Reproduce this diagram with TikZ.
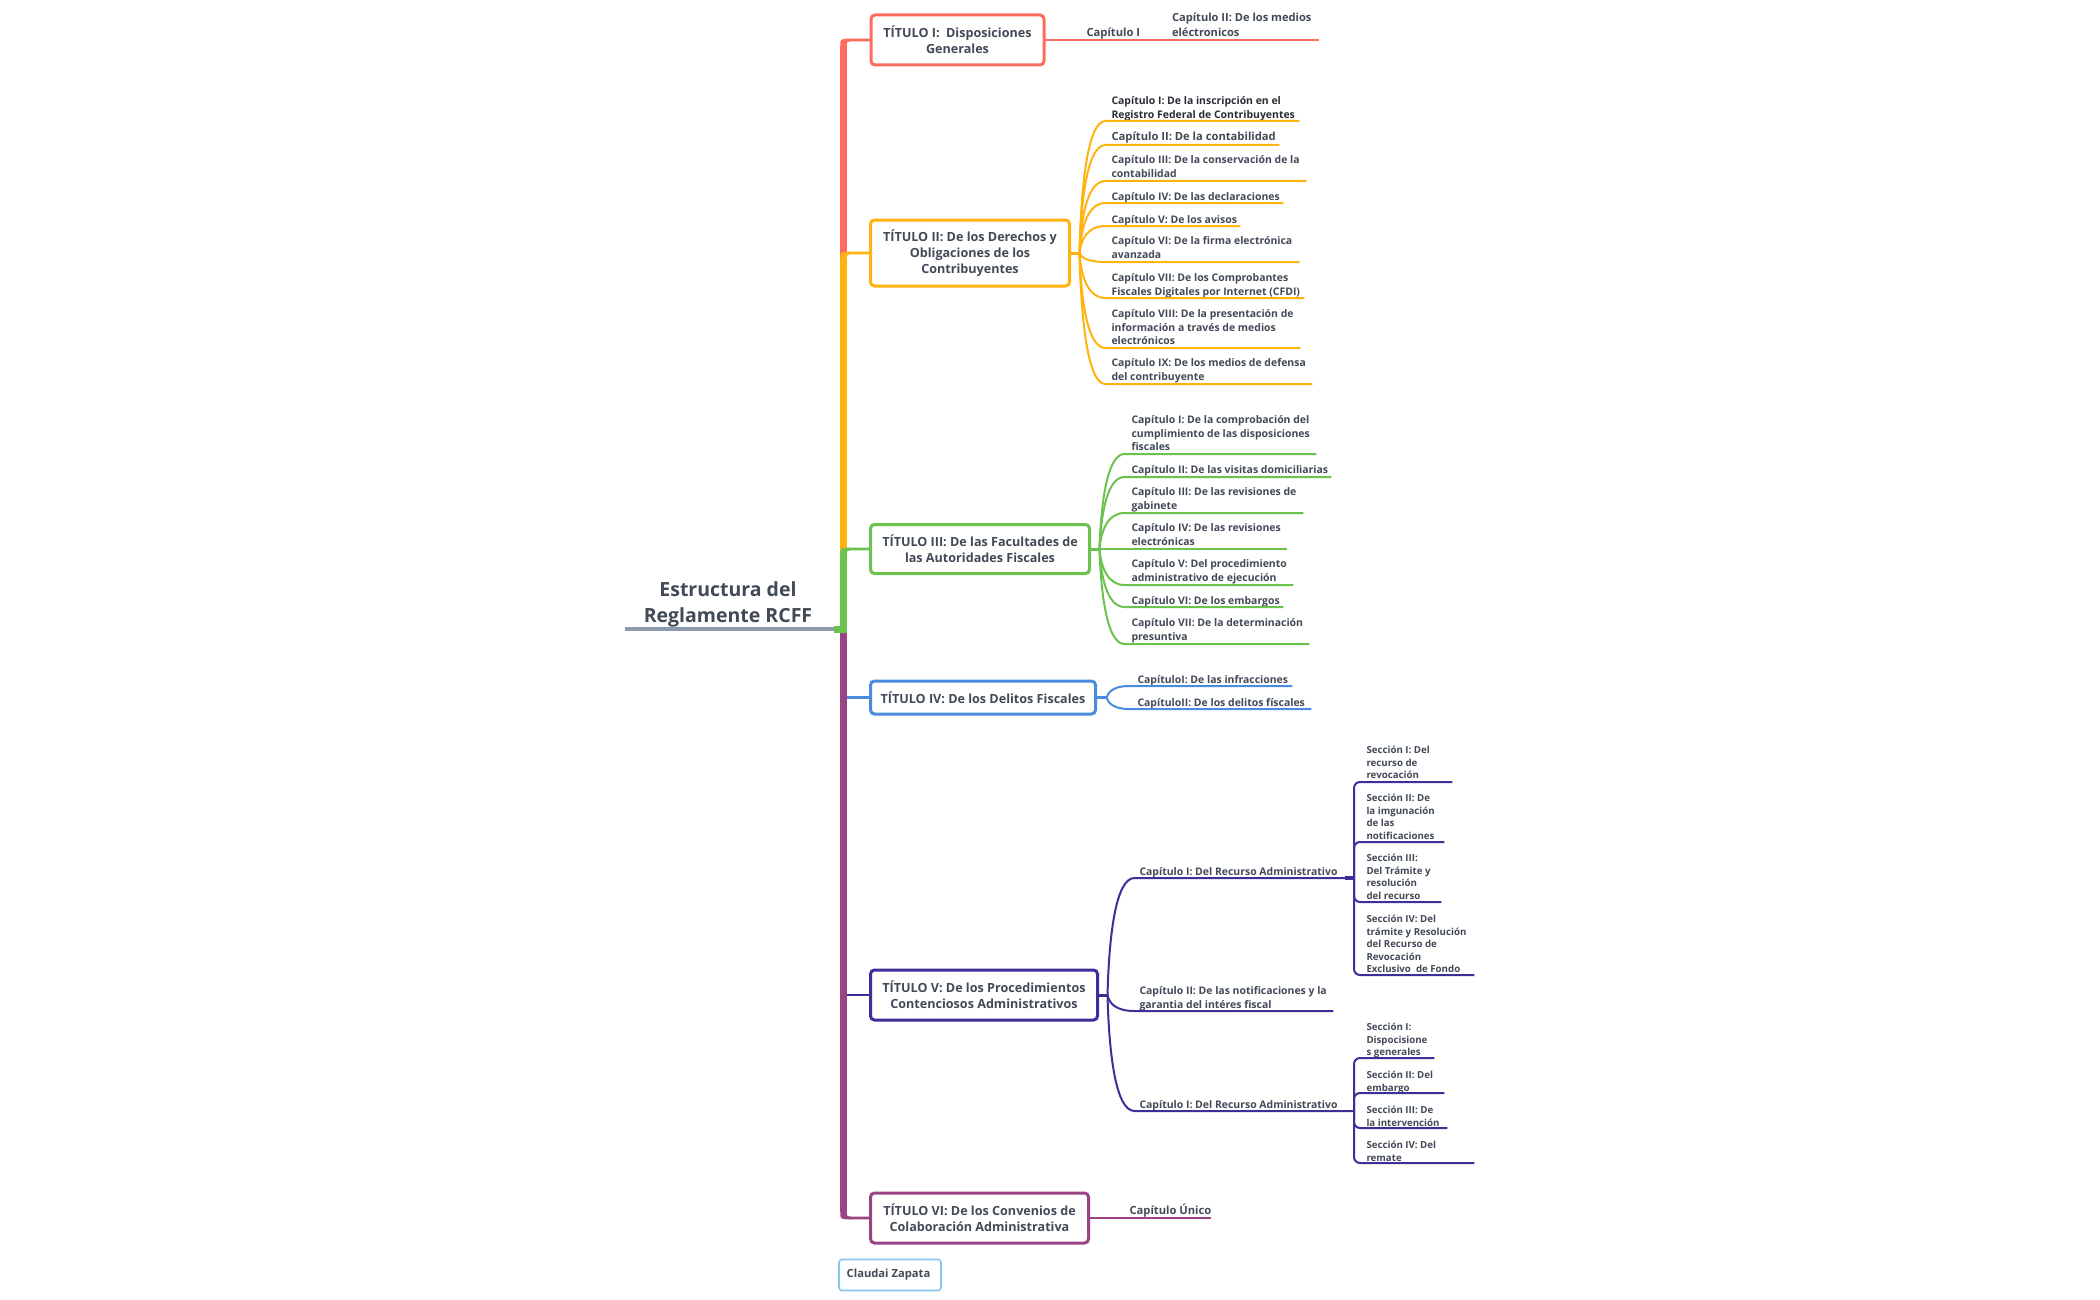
\documentclass[tikz,border=0pt]{standalone}
\usepackage{fontspec}
\setmainfont{Open Sans}
\usetikzlibrary{calc}
\definecolor{cred}{HTML}{FF6B5E}
\definecolor{corange}{HTML}{FFB30F}
\definecolor{cgreen}{HTML}{6CC24F}
\definecolor{cblue}{HTML}{4A8BDE}
\definecolor{cnavy}{HTML}{3E2E98}
\definecolor{cpurple}{HTML}{9A4485}
\definecolor{cgray}{HTML}{8E99AE}
\definecolor{ctext}{HTML}{414A56}
\definecolor{cdark}{HTML}{2A2D33}
\definecolor{clight}{HTML}{85C5EE}
\tikzset{
 titlebox/.style={draw=#1,line width=3,rounded corners=4,fill=white,inner sep=0,outer sep=0,align=center,text=ctext,font=\fontsize{12.6}{16}\selectfont\bfseries},
 leaftext/.style={anchor=north west,inner sep=0,outer sep=0,align=left,text=ctext,font=\fontsize{10.45}{13.5}\selectfont\bfseries,execute at begin node=\strut},
 bigleaf/.style={leaftext,font=\fontsize{11.2}{14.5}\selectfont\bfseries},
 secttext/.style={leaftext,font=\fontsize{9.7}{12.6}\selectfont\bfseries},
}
% \leaf[text style]{name}{from}{line y}{line end x}{text x}{text top y}{text}
\newcommand{\leaf}[8][leaftext]{%
 \coordinate (#2e) at ({#5-1.2},#4);
 \node[#1,yshift=-2.4pt] (#2) at (#6,#7) {#8};
}
\newcommand{\sectleaf}[7]{%
 \coordinate (#1e) at ({#4-1.2},#3);
 \node[secttext,yshift=-3.5pt] (#1) at ({#5-1},#6) {#7};
}
\newcommand{\leafline}[5]{% colour, from, curve end x, line y, end coordinate
 \draw[#1,line width=2] (#2) .. controls ($(#2)!.5!(#2 |- 0,#4)+(1.5,0)$) and ($(#2 |- 0,#4)+(8,0)$) .. (#3,#4) -- (#5);
}
\newcommand{\sectline}[2]{% from, end coord
 \draw[cnavy,line width=2,rounded corners=6] (#1) |- (#2);
}
\newcommand{\trunkup}[2]{%
 \coordinate (c#2) at (trunk |- #2.west);
 \draw[#1,line width=2.6,rounded corners=7] (trunk) |- (#2.west);
 \draw[#1,line width=6.5] (trunk) -- ($(c#2)+(0,6)$);
 \fill[#1] ($(c#2)+(-3.25,6.2)$) .. controls ($(c#2)+(-3.25,-1.3)$) .. ($(c#2)+(7,-1.3)$) -- ($(c#2)+(7,1.3)$) .. controls ($(c#2)+(3.25,1.3)$) .. ($(c#2)+(3.25,6.2)$) -- cycle;
}
\begin{document}
\begin{tikzpicture}[x=1pt,y=-1pt]
\useasboundingbox (0,0) rectangle (2100,1300);
\fill[white] (0,0) rectangle (2100,1300);
\coordinate (trunk) at (843.5,629);
\coordinate (rootl) at (625,629);
% root
\node[inner sep=0,outer sep=0,align=center,text=ctext,font=\fontsize{19.5}{26}\selectfont\bfseries] (root) at (728,604.5) {Estructura del\\Reglamente RCFF};
\draw[cgray,line width=3.5] (rootl) -- (trunk);
\begin{scope}[xshift=-1.5pt]
% titles
\node[titlebox=cred,minimum width=173,minimum height=50] (t1) at (959,40) {TÍTULO I:\ \ Disposiciones\\Generales};
\node[titlebox=corange,minimum width=199,minimum height=66] (t2) at (971.5,253) {TÍTULO II: De los Derechos y\\Obligaciones de los\\Contribuyentes};
\node[titlebox=cgreen,minimum width=219,minimum height=49] (t3) at (981.5,549) {TÍTULO III: De las Facultades de\\las Autoridades Fiscales};
\node[titlebox=cblue,minimum width=225,minimum height=33] (t4) at (984.5,697.5) {TÍTULO IV: De los Delitos Fiscales};
\node[titlebox=cnavy,minimum width=227,minimum height=50] (t5) at (985.5,995) {TÍTULO V: De los Procedimientos\\Contenciosos Administrativos};
\node[titlebox=cpurple,minimum width=218,minimum height=50] (t6) at (981,1218) {TÍTULO VI: De los Convenios de\\Colaboración Administrativa};
\end{scope}
% trunk
\trunkup{cred}{t1}
\trunkup{corange}{t2}
\trunkup{cgreen}{t3}
\draw[cblue,line width=2.6] (trunk |- t4.west) -- (t4.west);
\draw[cnavy,line width=2.6] (trunk |- t5.west) -- (t5.west);
\draw[cpurple,line width=2.6,rounded corners=7] (trunk) |- (t6.west);
\draw[cpurple,line width=6.5] (trunk) -- ($(trunk |- t6.west)+(0,-6)$);
\fill[cpurple] ($(trunk |- t6.west)+(-3.25,-6.2)$) .. controls ($(trunk |- t6.west)+(-3.25,1.3)$) .. ($(trunk |- t6.west)+(7,1.3)$) -- ($(trunk |- t6.west)+(7,-1.3)$) .. controls ($(trunk |- t6.west)+(3.25,-1.3)$) .. ($(trunk |- t6.west)+(3.25,-6.2)$) -- cycle;
\fill[cgreen] (834,625.5) rectangle (846.7,632.5);
\begin{scope}[xshift=-1.5pt]
% Titulo I
\node[bigleaf] (c10) at (1088,26) {Capítulo I};
\node[leaftext,font=\fontsize{11.1}{15}\selectfont\bfseries] (c11) at (1173.5,13) {Capítulo II: De los medios\\eléctronicos};
\coordinate (t1e) at (1320,40);
\draw[cred,line width=2.4] (t1.east) -- (t1e);
% Titulo II
\coordinate (o2) at (1081,253);
\draw[corange,line width=3] (t2.east) -- (o2);
\leaf[leaftext,text=cdark]{a1}{o2}{121}{1302}{1113}{94.5}{Capítulo I: De la inscripción en el\\Registro Federal de Contribuyentes}
\leaf[bigleaf]{a2}{o2}{145}{1282}{1113}{128}{Capítulo II: De la contabilidad}
\leaf{a3}{o2}{181}{1309}{1113}{153.5}{Capítulo III: De la conservación de la\\contabilidad}
\leaf{a4}{o2}{203}{1286}{1113}{188.5}{Capítulo IV: De las declaraciones}
\leaf{a5}{o2}{226}{1243}{1113}{211.5}{Capítulo V: De los avisos}
\leaf{a6}{o2}{262}{1302}{1113}{234.5}{Capítulo VI: De la firma electrónica\\avanzada}
\leaf{a7}{o2}{298}{1307}{1113}{271.5}{Capítulo VII: De los Comprobantes\\Fiscales Digitales por Internet (CFDI)}
\leaf{a8}{o2}{348}{1303}{1113}{307.5}{Capítulo VIII: De la presentación de\\información a través de medios\\electrónicos}
\leaf{a9}{o2}{384}{1315}{1113}{356.5}{Capítulo IX: De los medios de defensa\\del contribuyente}
\foreach \n/\y in {a1/121,a2/145,a3/181,a4/203,a5/226,a6/262,a7/298,a8/348,a9/384}{\leafline{corange}{o2}{1107}{\y}{\n e}}
% Titulo III
\coordinate (o3) at (1101,549);
\draw[cgreen,line width=3] (t3.east) -- (o3);
\leaf{b1}{o3}{454}{1319}{1133}{413.5}{Capítulo I: De la comprobación del\\cumplimiento de las disposiciones\\fiscales}
\leaf{b2}{o3}{477}{1334}{1133}{461.5}{Capítulo II: De las visitas domiciliarias}
\leaf{b3}{o3}{513}{1306}{1133}{485.5}{Capítulo III: De las revisiones de\\gabinete}
\leaf{b4}{o3}{549}{1290}{1133}{521.5}{Capítulo IV: De las revisiones\\electrónicas}
\leaf{b5}{o3}{585}{1296}{1133}{557.5}{Capítulo V: Del procedimiento\\administrativo de ejecución}
\leaf{b6}{o3}{607}{1286}{1133}{592.5}{Capítulo VI: De los embargos}
\leaf{b7}{o3}{644}{1312}{1133}{616.5}{Capítulo VII: De la determinación\\presuntiva}
\foreach \n/\y in {b1/454,b2/477,b3/513,b4/549,b5/585,b6/607,b7/644}{\leafline{cgreen}{o3}{1126}{\y}{\n e}}
% Titulo IV
\coordinate (o4) at (1108,697.5);
\draw[cblue,line width=3] (t4.east) -- (o4);
\leaf{d1}{o4}{686}{1295}{1139}{671.5}{CapítuloI: De las infracciones}
\leaf{d2}{o4}{709}{1314}{1139}{694.5}{CapítuloII: De los delitos físcales}
\foreach \n/\y in {d1/686,d2/709}{\leafline{cblue}{o4}{1130}{\y}{\n e}}
% Titulo V
\coordinate (o5) at (1109,995);
\draw[cnavy,line width=3] (t5.east) -- (o5);
\leaf{e1}{o5}{878}{1356.2}{1141}{863.5}{Capítulo I: Del Recurso Administrativo}
\leaf{e2}{o5}{1011}{1336}{1141}{984.5}{Capítulo II: De las notificaciones y la\\garantia del intéres fiscal}
\leaf{e3}{o5}{1111}{1356.2}{1141}{1096.5}{Capítulo I: Del Recurso Administrativo}
\foreach \n/\y in {e1/878,e2/1011,e3/1111}{\leafline{cnavy}{o5}{1136}{\y}{\n e}}
\coordinate (j1) at (1355.5,878);
\coordinate (j2) at (1355.5,1111);
\coordinate (j1s) at (1346,878);
\coordinate (j2s) at (1300,1111);
\draw[cnavy,line width=3.2] (j1s) -- (j1);
\draw[cnavy,line width=2.6] (j2s) -- (j2);
\sectleaf{f1}{j1}{782}{1455}{1369}{742.5}{Sección I: Del\\recurso de\\revocación}
\sectleaf{f2}{j1}{842}{1447}{1369}{790.5}{Sección II: De\\la imgunación\\de las\\notificaciones}
\sectleaf{f3}{j1}{902}{1444}{1369}{850.5}{Sección III:\\Del Trámite y\\resolución\\del recurso}
\sectleaf{f4}{j1}{975}{1477}{1369}{911.5}{Sección IV: Del\\trámite y Resolución\\del Recurso de\\Revocación\\Exclusivo\ \ de Fondo}
\foreach \n in {f1,f2,f3,f4}{\sectline{j1}{\n e}}
\sectleaf{g1}{j2}{1058}{1437}{1369}{1019.5}{Sección I:\\Dispocisione\\s generales}
\sectleaf{g2}{j2}{1093}{1447}{1369}{1067.5}{Sección II: Del\\embargo}
\sectleaf{g3}{j2}{1128}{1450}{1369}{1102.5}{Sección III: De\\la intervención}
\sectleaf{g4}{j2}{1163}{1477}{1369}{1137.5}{Sección IV: Del\\remate}
\foreach \n in {g1,g2,g3,g4}{\sectline{j2}{\n e}}
% Titulo VI
\coordinate (t6e) at (1212.5,1218);
\draw[cpurple,line width=2.4] (t6.east) -- (t6e);
\node[bigleaf] (h1) at (1131,1204.5) {Capítulo Único};
\end{scope}
% author
\node[draw=clight,line width=1.6,rounded corners=3,fill=white,inner sep=0,outer sep=0,minimum width=102,minimum height=31,text=ctext,font=\fontsize{11.2}{13}\selectfont\bfseries] (auth) at (890,1275) {Claudai Zapata\hspace*{3pt}};
\end{tikzpicture}
\end{document}
